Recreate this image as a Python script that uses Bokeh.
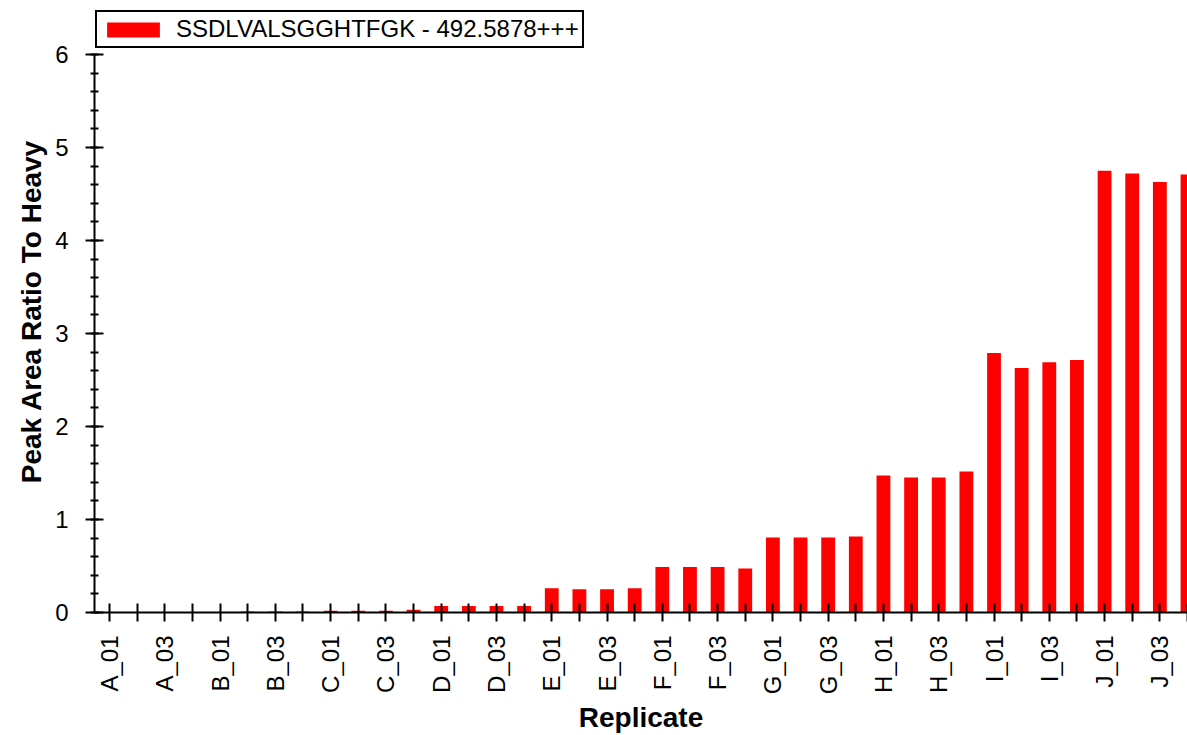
import math
from bokeh.plotting import figure
from bokeh.models import (Range1d, FixedTicker, SingleIntervalTicker, Legend, LegendItem,
                          ColumnDataSource, Title)
from bokeh.embed import file_html
from bokeh.resources import INLINE

# ---- data ----
replicates = [f"{g}_{n:02d}" for g in "ABCDEFGHIJ" for n in range(1, 5)]
ratios = [0.005, 0.0, 0.0, 0.0,
          0.0, 0.01, 0.01, 0.01,
          0.02, 0.02, 0.02, 0.03,
          0.07, 0.07, 0.07, 0.07,
          0.26, 0.25, 0.25, 0.26,
          0.49, 0.49, 0.49, 0.473,
          0.806, 0.806, 0.806, 0.817,
          1.473, 1.452, 1.452, 1.516,
          2.79, 2.63, 2.69, 2.715,
          4.75, 4.72, 4.63, 4.71]
series_label = "SSDLVALSGGHTFGK - 492.5878+++"
x_title = "Replicate"
y_title = "Peak Area Ratio To Heavy"
y_axis_min, y_axis_max = 0, 6

idx = list(range(len(replicates)))
src = ColumnDataSource(dict(x=idx, top=ratios, name=replicates))

FONT = "Liberation Sans"
X_START, X_END = -0.543, len(replicates) - 1
# extra head-room above the axis end so the legend sits inside the frame
Y_VIEW_END = 6.4736

p = figure(width=1187, height=735, output_backend="svg", toolbar_location=None,
           x_range=Range1d(X_START, X_END), y_range=Range1d(y_axis_min, Y_VIEW_END),
           min_border_left=94, min_border_right=0, min_border_top=10, min_border_bottom=123)
p.outline_line_color = None
p.xgrid.visible = False
p.ygrid.visible = False
p.background_fill_color = "white"
p.border_fill_color = "white"

r = p.vbar(x="x", top="top", width=0.5, source=src, fill_color="#FF0000", line_color=None)

# x axis
xa = p.xaxis[0]
xa.ticker = FixedTicker(ticks=idx)
xa.major_label_overrides = {i: (replicates[i] if i % 2 == 0 else "") for i in idx}
xa.major_label_orientation = math.pi / 2
xa.major_label_text_font = FONT
xa.major_label_text_font_size = "24px"
xa.major_label_text_color = "black"
xa.major_label_standoff = 14
xa.major_tick_in = 9
xa.major_tick_out = 9
xa.major_tick_line_width = 2
xa.major_tick_line_color = "black"
xa.minor_tick_line_color = None
xa.axis_line_width = 2
xa.axis_line_color = "black"

p.add_layout(Title(text=x_title, align="center", text_font=FONT, text_font_size="28px",
                   text_font_style="bold", text_color="black", standoff=4), "below")

# y axis
ya = p.yaxis[0]
ya.bounds = (y_axis_min, y_axis_max)
ya.ticker = SingleIntervalTicker(interval=1, num_minor_ticks=5)
ya.major_label_text_font = FONT
ya.major_label_text_font_size = "24px"
ya.major_label_text_color = "black"
ya.major_label_standoff = 17
ya.major_tick_in = 9
ya.major_tick_out = 9
ya.minor_tick_in = 4
ya.minor_tick_out = 4
ya.major_tick_line_width = 2
ya.minor_tick_line_width = 2
ya.major_tick_line_color = "black"
ya.minor_tick_line_color = "black"
ya.axis_line_width = 2
ya.axis_line_color = "black"
ya.axis_label = y_title
ya.axis_label_text_font = FONT
ya.axis_label_text_font_size = "28px"
ya.axis_label_text_font_style = "bold"
ya.axis_label_text_color = "black"
ya.axis_label_standoff = 5

legend = Legend(items=[LegendItem(label=series_label, renderers=[r])],
                location=(1, 564), orientation="horizontal")
legend.label_text_font = FONT
legend.label_text_font_size = "24px"
legend.label_text_color = "black"
legend.glyph_width = 66
legend.glyph_height = 19
legend.label_standoff = 10
legend.padding = 3
legend.margin = 0
legend.spacing = 0
legend.border_line_color = "black"
legend.border_line_alpha = 1
legend.border_line_width = 2
legend.background_fill_color = "white"
legend.background_fill_alpha = 1
p.add_layout(legend, "center")

open("out.html", "w").write(file_html(p, INLINE))
